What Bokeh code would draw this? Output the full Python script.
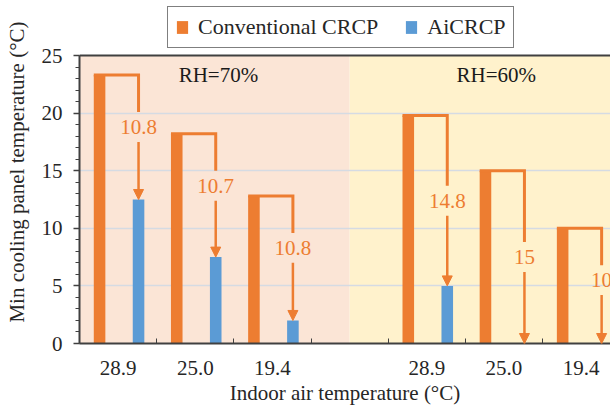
import numpy as np
from bokeh.plotting import figure
from bokeh.models import (ColumnDataSource, Range1d, FixedTicker, SingleIntervalTicker,
                          Arrow, NormalHead, Span, Legend, LegendItem)
from bokeh.core.properties import value
from bokeh.embed import file_html
from bokeh.resources import INLINE

# ---------------- data ----------------
temps = ["28.9", "25.0", "19.4"]          # indoor air temperature (°C)
groups = ["RH=70%", "RH=60%"]
conv_rh70 = [23.3, 18.2, 12.8]            # Conventional CRCP
ai_rh70 = [12.5, 7.5, 2.0]                # AiCRCP
conv_rh60 = [19.8, 15.0, 10.0]
ai_rh60 = [5.0, 0.0, 0.0]
label_level = [18.8, 13.7, 8.3, 12.4, 7.5, 5.5]   # heights of difference labels
group_label_x = [1.8, 5.4]
y_max = 25

# ---------------- styling ----------------
FONT = "Liberation Serif"
ORANGE = "#ed7d31"
BLUE = "#5b9bd5"
PINK = "#fbe5d6"
YELLOW = "#fff2cc"
DARK = "#404040"
TXT = "#262626"
OFF_C, OFF_A, BW = -0.24, 0.265, 0.15
GAP = 1.3
PX_PER_UNIT = 11.52
TOP_PX = 55            # room above the axes for the legend

n = len(temps)
centers = [i + 0.5 for i in range(n)] + [n + 1 + i + 0.5 for i in range(n)]
split = n + 0.5
conv = conv_rh70 + conv_rh60
ai = ai_rh70 + ai_rh60
diff_txt = [f"{round(c - a, 1):g}" for c, a in zip(conv, ai)]
xc = [c + OFF_C for c in centers]
xa = [c + OFF_A for c in centers]

p = figure(width=610, height=407, x_range=Range1d(0, 6.88),
           y_range=Range1d(0, y_max + TOP_PX / PX_PER_UNIT),
           output_backend="svg", toolbar_location=None,
           min_border_left=79, min_border_top=0, min_border_right=0, min_border_bottom=64)
p.outline_line_color = None
p.background_fill_color = "white"
p.border_fill_color = "white"

# background shading of the two RH groups
p.quad(left=[0, split], right=[split, 2 * n + 2], bottom=[0, 0], top=[y_max, y_max],
       fill_color=[PINK, YELLOW], line_color=None, level="image")

# grid
p.xgrid.visible = False
p.ygrid.ticker = FixedTicker(ticks=[5, 10, 15, 20])
p.ygrid.grid_line_color = "#d5dbe3"
p.ygrid.grid_line_width = 1.5

# bars
r_conv = p.vbar(x=xc, top=conv, width=BW, fill_color=ORANGE, line_color=None)
r_ai = p.vbar(x=xa, top=ai, width=BW, fill_color=BLUE, line_color=None)

# brackets
p.multi_line(xs=[[x0 - BW / 2, x1, x1] for x0, x1 in zip(xc, xa)],
             ys=[[c, c, l + GAP] for c, l in zip(conv, label_level)],
             line_color=ORANGE, line_width=3, line_join="miter")
arr_src = ColumnDataSource(dict(x=xa, y0=[l - GAP for l in label_level], y1=ai))
p.add_layout(Arrow(end=NormalHead(size=10, fill_color=ORANGE, line_color=ORANGE, line_width=1),
                   x_start="x", y_start="y0", x_end="x", y_end="y1", source=arr_src,
                   line_color=ORANGE, line_width=2.5))

# labels
p.text(x=xa, y=label_level, text=diff_txt, text_font=value(FONT), text_font_size="21px",
       text_color=ORANGE, text_align="center", text_baseline="middle")
p.text(x=group_label_x, y=[23.3, 23.3], text=groups, text_font=value(FONT),
       text_font_size="21px", text_color="#1a1a1a", text_align="center", text_baseline="middle")

# top border of the plot area
p.add_layout(Span(location=y_max, dimension="width", line_color=DARK, line_width=2))

# axes
xa_ = p.xaxis[0]
xa_.ticker = FixedTicker(ticks=centers, minor_ticks=[float(i) for i in range(1, 2 * n + 1)])
xa_.major_label_overrides = {c: t for c, t in zip(centers, temps + temps)}
xa_.major_tick_in = 0
xa_.major_tick_out = 0
xa_.minor_tick_in = 5
xa_.minor_tick_out = 0
xa_.major_label_standoff = 17
xa_.axis_label = "Indoor air temperature (°C)"
xa_.axis_label_standoff = 3

ya_ = p.yaxis[0]
ya_.bounds = (0, y_max)
ya_.ticker = SingleIntervalTicker(interval=5, num_minor_ticks=5)
ya_.major_tick_in = 0
ya_.major_tick_out = 6
ya_.minor_tick_in = 0
ya_.minor_tick_out = 4
ya_.major_label_standoff = 11
ya_.axis_label = "Min cooling panel temperature (°C)"
ya_.axis_label_standoff = 10

for ax in (xa_, ya_):
    ax.axis_line_color = DARK
    ax.axis_line_width = 2
    ax.major_tick_line_color = DARK
    ax.minor_tick_line_color = DARK
    ax.major_tick_line_width = 1.5
    ax.minor_tick_line_width = 1
    ax.major_label_text_font = FONT
    ax.major_label_text_font_size = "21px"
    ax.major_label_text_color = TXT
    ax.axis_label_text_font = FONT
    ax.axis_label_text_font_size = "21px"
    ax.axis_label_text_font_style = "normal"
    ax.axis_label_text_color = TXT

legend = Legend(items=[LegendItem(label="Conventional CRCP", renderers=[r_conv]),
                       LegendItem(label="AiCRCP", renderers=[r_ai])],
                orientation="horizontal", location=(88, 295),
                label_text_font=FONT, label_text_font_size="22px", label_text_color=TXT,
                glyph_width=14, glyph_height=16, label_standoff=9, spacing=26,
                padding=7, margin=0, border_line_color="black", border_line_width=1,
                background_fill_color="white", background_fill_alpha=1)
p.add_layout(legend)

open("out.html", "w").write(file_html(p, INLINE))
